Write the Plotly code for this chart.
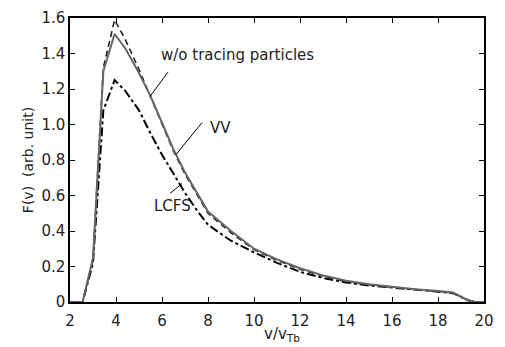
import plotly.graph_objects as go

v = [2.0, 2.55, 3.0, 3.45, 3.94, 4.4, 5.0, 5.5, 6.0, 6.5, 7.0, 7.5, 8.0, 9.0, 10.0, 11.0,
     12.0, 13.0, 14.0, 15.0, 16.0, 17.0, 18.0, 18.65, 19.0, 19.3, 19.6, 20.0]
f_without = [0, 0, 0.25, 1.30, 1.51, 1.43, 1.29, 1.16, 1.01, 0.86, 0.73, 0.62, 0.51, 0.40, 0.30, 0.24,
             0.19, 0.15, 0.12, 0.10, 0.085, 0.072, 0.062, 0.053, 0.03, 0.01, 0, 0]
f_vv = [0, 0, 0.24, 1.32, 1.59, 1.48, 1.31, 1.16, 1.00, 0.85, 0.72, 0.61, 0.50, 0.39, 0.295, 0.235,
        0.185, 0.145, 0.115, 0.097, 0.083, 0.07, 0.06, 0.052, 0.03, 0.01, 0, 0]
f_lcfs = [0, 0, 0.22, 1.08, 1.25, 1.19, 1.08, 0.95, 0.83, 0.72, 0.615, 0.52, 0.435, 0.345, 0.28, 0.22,
          0.17, 0.135, 0.11, 0.093, 0.08, 0.068, 0.058, 0.05, 0.03, 0.01, 0, 0]
x_ticks = [2, 4, 6, 8, 10, 12, 14, 16, 18, 20]
y_ticks = [0, 0.2, 0.4, 0.6, 0.8, 1.0, 1.2, 1.4, 1.6]
y_tick_text = ["0", "0.2", "0.4", "0.6", "0.8", "1.0", "1.2", "1.4", "1.6"]

FONT = "DejaVu Sans"
TXT = "#222"

fig = go.Figure()
fig.add_trace(go.Scatter(x=v, y=f_lcfs, mode="lines",
                         line=dict(color="black", width=2, dash="dashdot")))
fig.add_trace(go.Scatter(x=v, y=f_vv, mode="lines",
                         line=dict(color="#222", width=1.6, dash="6px,4px")))
fig.add_trace(go.Scatter(x=v, y=f_without, mode="lines",
                         line=dict(color="#666", width=2)))

tickfont = dict(family=FONT, size=15, color=TXT)
axis_common = dict(showgrid=False, zeroline=False, showline=True, linecolor="black",
                   linewidth=1.5, mirror="ticks", ticks="inside", ticklen=5,
                   tickcolor="black", tickfont=tickfont)
fig.update_xaxes(range=[2, 20], tickvals=x_ticks, ticklabelstandoff=4, **axis_common)
fig.update_yaxes(range=[0, 1.6], tickvals=y_ticks, ticktext=y_tick_text,
                 title=dict(text="F(v)  (arb. unit)", font=dict(family=FONT, size=14, color=TXT), standoff=4),
                 **axis_common)

# text labels (data coordinates)
labels = [
    (5.85, 1.39, "w/o tracing particles"),
    (8.0, 0.98, "VV"),
    (5.55, 0.54, "LCFS"),
]
for x, y, t in labels:
    fig.add_annotation(x=x, y=y, xref="x", yref="y", text=t, showarrow=False,
                       xanchor="left", yanchor="middle",
                       font=dict(family=FONT, size=15, color=TXT))

pointers = [((6.26, 1.295), (5.48, 1.158)),
            ((7.74, 1.011), (6.61, 0.831)),
            ((6.35, 0.612), (6.87, 0.667))]
shapes = []
for (x0, y0), (x1, y1) in pointers:
    shapes.append(dict(type="line", xref="x", yref="y", x0=x0, y0=y0, x1=x1, y1=y1,
                       line=dict(color="black", width=1)))

fig.add_annotation(x=11.2, y=-0.075, xref="x", yref="paper", text="v/v<sub>Tb</sub>",
                   showarrow=False, yanchor="top",
                   font=dict(family=FONT, size=15, color=TXT))

fig.update_layout(width=505, height=347, showlegend=False, shapes=shapes,
                  margin=dict(l=70, r=21, t=9, b=45),
                  plot_bgcolor="white", paper_bgcolor="white")
fig.write_html("out.html", config={"displayModeBar": False},
               post_script="document.body.style.margin='0';")
